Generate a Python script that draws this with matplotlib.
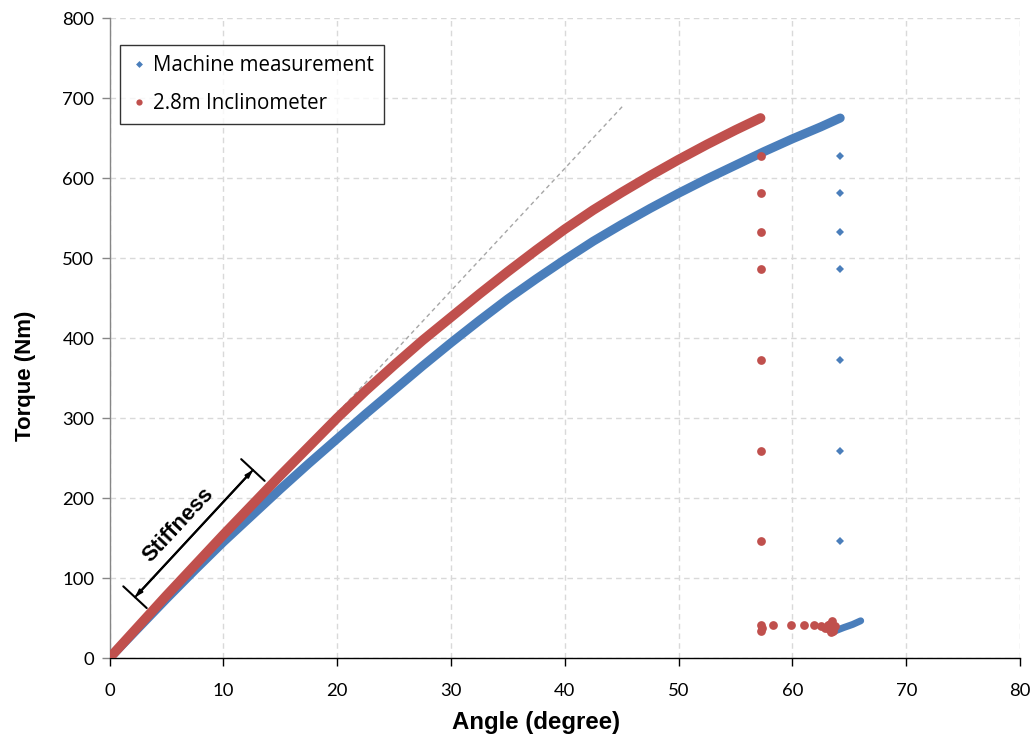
import matplotlib
matplotlib.use("Agg")
import matplotlib.pyplot as plt

# Loading curves (angle in degrees, torque in Nm)
angle_machine = [0, 2.5, 5, 7.5, 10, 12.5, 15, 17.5, 20, 22.5, 25, 27.5, 30, 32.5,
                 35, 37.5, 40, 42.5, 45, 47.5, 50, 52.5, 55, 57.5, 60, 62.5, 64.2]
torque_machine = [0, 37, 74, 110, 145, 178, 211, 243, 274, 305, 335, 365, 394, 422,
                  449, 474, 498, 521, 542, 562, 581, 599, 616, 633, 649, 664, 675]

angle_incl = [0, 2.5, 5, 7.5, 10, 12.5, 15, 17.5, 20, 22.5, 25, 27.5, 30, 32.5,
              35, 37.5, 40, 42.5, 45, 47.5, 50, 52.5, 55, 57.2]
torque_incl = [0, 39, 78, 116, 154, 191, 228, 264, 300, 334, 366, 397, 426, 455,
               483, 510, 536, 560, 582, 603, 623, 642, 660, 675]

# Unloading drop (torque readings at the final angle)
drop_torque = [628, 581, 533, 486, 373, 259, 146]
drop_angle_machine = 64.2
drop_angle_incl = 57.2

# Residual tail after unloading
tail_angle_machine = [63.6, 64.5, 65.3, 66.0]
tail_torque_machine = [33, 38, 42, 46.5]
tail_angle_incl = [57.2, 57.3, 57.25, 58.3, 59.9, 61.0, 61.9, 62.5, 62.9, 63.1,
                   63.3, 63.5, 63.6, 63.4, 63.7, 63.2]
tail_torque_incl = [34, 38, 41, 41, 41, 41, 41, 40, 38, 41, 43, 46, 34, 33, 40, 36]

# Initial stiffness (Nm/degree) and extent of the reference line
stiffness = 15.3
stiffness_end_angle = 45.2

x_ticks = [0, 10, 20, 30, 40, 50, 60, 70, 80]
y_ticks = [0, 100, 200, 300, 400, 500, 600, 700, 800]

BLUE = "#4A7EBB"
RED = "#C0504D"
TICK_FONT = "Lato"
LEGEND_FONT = "Open Sans"
LABEL_FONT = "Liberation Sans"

fig = plt.figure(figsize=(10.36, 7.39), dpi=100)
ax = fig.add_axes([0.1057, 0.1096, 0.8789, 0.866])

ax.set_xlim(0, 80)
ax.set_ylim(0, 800)
ax.set_xticks(x_ticks)
ax.set_yticks(y_ticks)

ax.grid(True, color="#D9D9D9", linestyle=(0, (4, 3)), linewidth=1.0)
ax.set_axisbelow(True)

# stiffness reference line
ax.plot([0, stiffness_end_angle], [0, stiffness * stiffness_end_angle],
        color="#A6A6A6", linestyle=(0, (3, 2.5)), linewidth=1.0, zorder=2)

# machine measurement
ax.plot(angle_machine, torque_machine, color=BLUE, linewidth=6.5,
        solid_capstyle="round", solid_joinstyle="round", zorder=3)
ax.plot(tail_angle_machine, tail_torque_machine, color=BLUE, linewidth=5.0,
        solid_capstyle="round", zorder=3)
ax.plot([drop_angle_machine] * len(drop_torque), drop_torque, linestyle="none",
        marker="D", markersize=4.5, color=BLUE, markeredgewidth=0, zorder=3)

# inclinometer
ax.plot(angle_incl, torque_incl, color=RED, linewidth=7.0,
        solid_capstyle="round", solid_joinstyle="round", zorder=4)
ax.plot([drop_angle_incl] * len(drop_torque), drop_torque, linestyle="none",
        marker="o", markersize=6.3, color=RED, markeredgewidth=0, zorder=4)
ax.plot(tail_angle_incl, tail_torque_incl, linestyle="none",
        marker="o", markersize=6.3, color=RED, markeredgewidth=0, zorder=4)

# legend handles
h1, = ax.plot([], [], linestyle="none", marker="D", markersize=3.5, color=BLUE,
              markeredgewidth=0)
h2, = ax.plot([], [], linestyle="none", marker="o", markersize=4.5, color=RED,
              markeredgewidth=0)
leg = ax.legend([h1, h2], ["Machine measurement", "2.8m Inclinometer"],
                loc="upper left", bbox_to_anchor=(0.012, 0.958),
                prop={"family": LEGEND_FONT, "size": 14.8}, frameon=True,
                fancybox=False, edgecolor="black", handlelength=0.8,
                handletextpad=0.3, borderpad=0.5, labelspacing=0.82,
                borderaxespad=0)
leg.get_frame().set_linewidth(1.0)

# stiffness bracket
p_start = (2.24, 76)
p_end = (12.6, 235)
ax.annotate("", xy=p_end, xytext=p_start,
            arrowprops=dict(arrowstyle="|-|,widthA=1.15,widthB=1.15",
                            color="black", linewidth=1.5, shrinkA=0, shrinkB=0),
            zorder=5)
ax.annotate("", xy=p_end, xytext=p_start,
            arrowprops=dict(arrowstyle="<|-|>,head_length=0.4,head_width=0.13",
                            color="black", linewidth=1.5, shrinkA=0, shrinkB=0),
            zorder=5)
ax.text(6.0, 166, "Stiffness", rotation=47, rotation_mode="anchor",
        ha="center", va="center", fontsize=16, fontweight="bold",
        family=LABEL_FONT, zorder=5)

# axes styling
for side in ("top", "right"):
    ax.spines[side].set_visible(False)
ax.spines["left"].set_color("#868686")
ax.spines["bottom"].set_color("black")
ax.spines["left"].set_linewidth(1.0)
ax.spines["bottom"].set_linewidth(1.0)
ax.tick_params(axis="x", direction="out", length=6, width=1.0, color="black",
               pad=12)
ax.tick_params(axis="y", direction="out", length=6, width=1.0, color="#868686",
               pad=5)
for lab in ax.get_xticklabels() + ax.get_yticklabels():
    lab.set_fontfamily(TICK_FONT)
    lab.set_fontsize(13.3)

fig.text(536 / 1036, 1 - 723 / 739, "Angle (degree)", family=LABEL_FONT,
         fontsize=17.3, fontweight="bold", ha="center", va="center")
fig.text(25 / 1036, 1 - 376 / 739, "Torque (Nm)", family=LABEL_FONT,
         fontsize=16, fontweight="bold", ha="center", va="center", rotation=90)

fig.savefig("out.png", dpi=100)
